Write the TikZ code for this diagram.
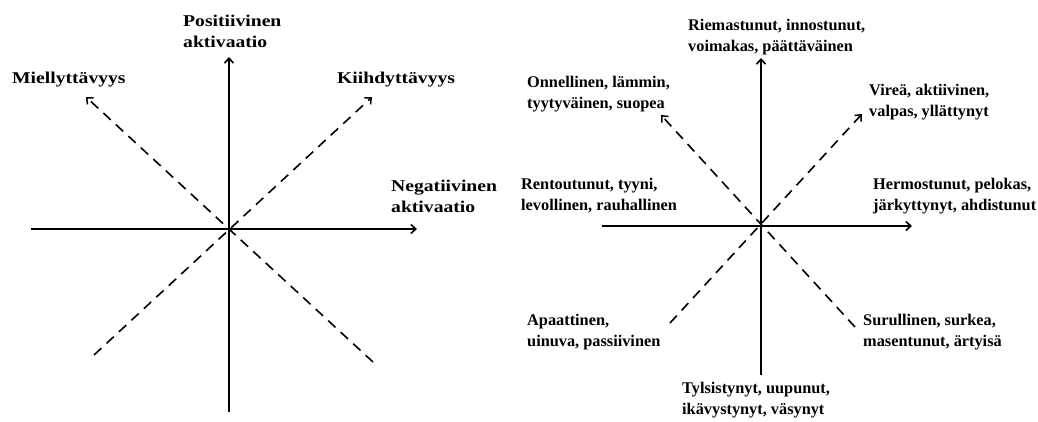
\documentclass[tikz,border=0pt]{standalone}
\usepackage{fontspec}
\setmainfont{Liberation Serif}
\newfontfamily\widefont{Liberation Serif}[FakeStretch=1.19]
\usepackage{tikz}
\usetikzlibrary{calc,positioning,arrows.meta}
\tikzset{
	axis/.style={line width=1.8pt, -{Straight Barb[length=5pt,width=9pt,line width=1.6pt]}},
	diag/.style={line width=1.6pt, dash pattern=on 10pt off 7pt, -{Straight Barb[length=5pt,width=9pt,line width=1.5pt]}},
	lab/.style={anchor=north west, inner sep=0pt, align=left, font=\bfseries\fontsize{16.3}{21}\selectfont},
	widelab/.style={anchor=north west, inner sep=0pt, align=left, font=\widefont\bfseries\fontsize{16.5}{21}\selectfont}
}
\begin{document}
\begin{tikzpicture}[x=1pt,y=1pt]
			\useasboundingbox (0,0) rectangle (1038,421);
			\coordinate (O) at (229,192);
			\coordinate (l) at (31,192);
			\coordinate (r) at (417,192);
			\coordinate (u) at (229,364);
			\coordinate (b) at (229,9);
			\coordinate (nw) at (86,324);
			\coordinate (ne) at (372,324);
			\coordinate (sw) at (94,66);
			\coordinate (se) at (373,59);
			\draw[axis] (l)--(r);
			\draw[axis] (b)--(u);
			\draw[diag] (se)--(nw);
			\draw[diag] (sw)--(ne);
			\node[widelab] (pos) at (183,406) {Positiivinen\\aktivaatio};
			\node[widelab] (miel) at (12,349) {Miellyttävyys};
			\node[widelab] (kiih) at (337,349) {Kiihdyttävyys};
			\node[widelab] (neg) at (391,241) {Negatiivinen\\aktivaatio};
			\coordinate (P) at (761,195);
			\coordinate (l2) at (602,195);
			\coordinate (r2) at (912,195);
			\coordinate (u2) at (761,363);
			\coordinate (b2) at (761,46);
			\coordinate (nw2) at (661,306);
			\coordinate (ne2) at (862,307);
			\coordinate (sw2) at (670,98);
			\coordinate (se2) at (855,94);
			\draw[axis] (l2)--(r2);
			\draw[axis] (b2)--(u2);
			\draw[diag] (se2)--(nw2);
			\draw[diag] (sw2)--(ne2);
			\node[lab] (riem) at (688,402) {Riemastunut, innostunut,\\voimakas, päättäväinen};
			\node[lab] (onn) at (527,345) {Onnellinen, lämmin,\\tyytyväinen, suopea};
			\node[lab] (vir) at (869,337) {Vireä, aktiivinen,\\valpas, yllättynyt};
			\node[lab] (rent) at (521,243) {Rentoutunut, tyyni,\\levollinen, rauhallinen};
			\node[lab] (herm) at (873,243) {Hermostunut, pelokas,\\järkyttynyt, ahdistunut};
			\node[lab] (apa) at (527,107) {Apaattinen,\\uinuva, passiivinen};
			\node[lab] (sur) at (863,107) {Surullinen, surkea,\\masentunut, ärtyisä};
			\node[lab] (tyl) at (682,39) {Tylsistynyt, uupunut,\\ikävystynyt, väsynyt};
		\end{tikzpicture}
\end{document}
